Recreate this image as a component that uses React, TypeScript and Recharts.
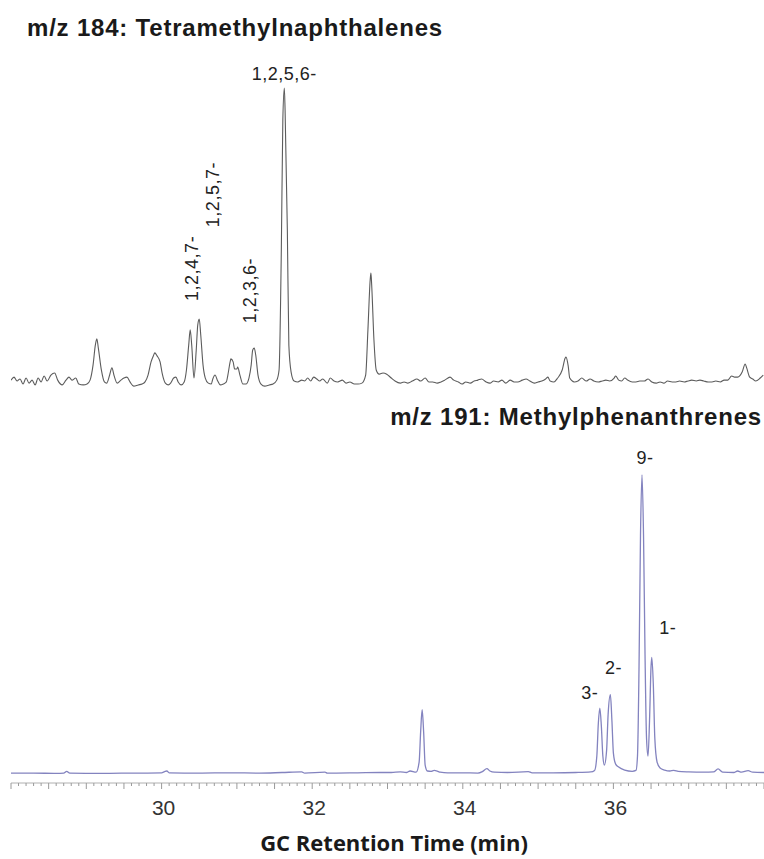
import { LineChart, Line, XAxis, YAxis, ReferenceDot } from "recharts";

// m/z 184 trace: [retention time (min), relative abundance (%)]
const tmnTrace: [number, number][] = [
  [28.0, 2.3], [28.04, 3.3], [28.08, 2.0], [28.12, 2.7], [28.16, 1.0], [28.2, 3.0], [28.24, 1.3],
  [28.28, 2.3], [28.32, 0.7], [28.36, 3.0], [28.4, 1.7], [28.44, 3.7], [28.48, 2.0], [28.53, 4.0],
  [28.58, 4.7], [28.62, 2.3], [28.68, 0.7], [28.73, 2.3], [28.77, 3.3], [28.81, 2.3], [28.86, 3.0],
  [28.9, 1.0], [28.96, 0.7], [29.01, 1.0], [29.05, 2.3], [29.09, 7.4], [29.12, 14.0], [29.14, 16.1],
  [29.16, 13.0], [29.2, 5.7], [29.24, 1.7], [29.27, 1.3], [29.31, 4.0], [29.34, 6.4], [29.37, 3.7],
  [29.41, 1.3], [29.46, 2.3], [29.5, 3.0], [29.54, 3.3], [29.58, 1.7], [29.63, 0.3], [29.69, 0.7],
  [29.74, 1.0], [29.78, 1.7], [29.82, 4.0], [29.86, 8.4], [29.89, 10.4], [29.91, 11.4], [29.94, 10.4],
  [29.98, 8.4], [30.01, 4.3], [30.05, 1.3], [30.09, 0.7], [30.12, 1.3], [30.16, 3.0], [30.19, 3.3],
  [30.22, 1.7], [30.26, 0.7], [30.3, 1.7], [30.33, 5.7], [30.36, 14.0], [30.38, 19.1], [30.4, 14.0],
  [30.43, 3.0], [30.46, 12.4], [30.48, 20.7], [30.5, 22.7], [30.52, 17.4], [30.55, 7.4], [30.58, 3.0],
  [30.62, 1.3], [30.66, 1.0], [30.68, 2.7], [30.71, 4.0], [30.74, 2.3], [30.78, 0.7], [30.82, 1.0],
  [30.86, 1.7], [30.88, 4.0], [30.91, 8.4], [30.92, 9.4], [30.95, 8.4], [30.97, 6.0], [31.0, 6.0],
  [31.01, 6.7], [31.04, 4.0], [31.08, 1.0], [31.12, 1.0], [31.16, 3.0], [31.19, 7.4], [31.21, 12.4],
  [31.23, 13.0], [31.25, 10.7], [31.28, 4.0], [31.32, 1.0], [31.37, 0.3], [31.43, 0.7], [31.48, 1.0],
  [31.53, 2.3], [31.56, 5.7], [31.59, 45.8], [31.61, 89.3], [31.63, 100], [31.64, 92.6], [31.67, 52.5],
  [31.69, 14.0], [31.72, 5.0], [31.76, 2.0], [31.81, 1.7], [31.86, 2.3], [31.9, 2.0], [31.94, 3.0],
  [31.98, 2.0], [32.02, 3.3], [32.06, 2.7], [32.1, 2.0], [32.14, 2.7], [32.2, 1.3], [32.24, 3.0],
  [32.29, 2.0], [32.34, 1.7], [32.4, 2.3], [32.45, 1.3], [32.5, 1.7], [32.56, 1.0], [32.61, 1.0],
  [32.66, 1.3], [32.71, 4.0], [32.74, 19.1], [32.77, 35.8], [32.78, 38.1], [32.79, 34.1], [32.82, 15.7],
  [32.85, 5.7], [32.89, 4.3], [32.94, 4.7], [32.99, 4.3], [33.05, 3.0], [33.1, 2.0], [33.17, 1.3],
  [33.22, 1.7], [33.27, 1.3], [33.33, 2.0], [33.39, 2.7], [33.44, 2.0], [33.5, 3.0], [33.55, 1.7],
  [33.6, 1.7], [33.66, 1.3], [33.71, 1.7], [33.76, 2.3], [33.83, 3.3], [33.88, 2.3], [33.94, 1.7],
  [33.99, 1.0], [34.04, 1.7], [34.1, 1.3], [34.15, 2.0], [34.2, 2.3], [34.25, 2.7], [34.31, 1.7],
  [34.36, 1.3], [34.41, 2.0], [34.47, 1.7], [34.52, 2.3], [34.57, 1.3], [34.63, 2.3], [34.68, 1.7],
  [34.73, 1.7], [34.79, 2.3], [34.84, 2.7], [34.89, 2.0], [34.95, 1.3], [35.0, 1.7], [35.05, 2.0],
  [35.1, 2.7], [35.13, 3.3], [35.16, 2.0], [35.21, 1.7], [35.26, 3.0], [35.32, 5.7], [35.36, 9.7],
  [35.37, 10.0], [35.4, 7.0], [35.42, 3.0], [35.48, 1.7], [35.53, 2.0], [35.58, 3.0], [35.64, 2.0],
  [35.69, 2.7], [35.74, 2.0], [35.8, 1.7], [35.85, 2.0], [35.9, 2.3], [35.95, 2.0], [36.01, 3.0],
  [36.03, 3.7], [36.07, 2.3], [36.11, 2.0], [36.15, 3.0], [36.19, 2.3], [36.25, 1.7], [36.3, 1.7],
  [36.35, 2.0], [36.41, 2.0], [36.46, 2.7], [36.51, 1.7], [36.57, 1.3], [36.62, 1.7], [36.67, 1.3],
  [36.72, 2.0], [36.78, 1.7], [36.83, 1.7], [36.88, 2.0], [36.94, 1.7], [36.99, 2.0], [37.04, 2.3],
  [37.1, 2.0], [37.15, 2.3], [37.2, 2.0], [37.26, 1.7], [37.31, 1.7], [37.36, 2.0], [37.42, 1.7],
  [37.47, 2.3], [37.52, 2.3], [37.57, 3.7], [37.61, 3.3], [37.65, 3.3], [37.71, 5.0], [37.75, 7.7],
  [37.77, 6.4], [37.81, 3.3], [37.85, 2.7], [37.89, 2.0], [37.95, 3.0], [37.99, 4.0],
];

// m/z 191 trace: [retention time (min), relative abundance (%)]
const mpTrace: [number, number][] = [
  [28.0, 0.3], [28.3, 0.3], [28.6, 0.2], [28.7, 0.3], [28.74, 0.9], [28.78, 0.3], [29.2, 0.2],
  [29.6, 0.3], [30.0, 0.4], [30.04, 0.8], [30.07, 1.0], [30.1, 0.4], [30.5, 0.3], [30.9, 0.4],
  [31.3, 0.3], [31.6, 0.5], [31.86, 0.7], [31.9, 0.3], [32.17, 0.6], [32.2, 0.3], [32.6, 0.4],
  [32.9, 0.5], [33.05, 0.5], [33.17, 0.7], [33.25, 0.5], [33.3, 1.0], [33.38, 0.6], [33.42, 4.0],
  [33.44, 14.0], [33.46, 21.5], [33.48, 14.0], [33.5, 3.0], [33.53, 1.0], [33.58, 0.9], [33.62, 1.2],
  [33.66, 1.0], [33.7, 0.6], [33.8, 0.4], [34.0, 0.4], [34.2, 0.3], [34.26, 0.8], [34.32, 1.8],
  [34.36, 1.0], [34.42, 0.6], [34.6, 0.5], [34.87, 0.8], [34.92, 0.4], [35.2, 0.4], [35.5, 0.5],
  [35.7, 0.7], [35.75, 1.2], [35.78, 6.0], [35.8, 17.0], [35.82, 22.0], [35.84, 16.0], [35.86, 6.0],
  [35.88, 3.0], [35.91, 8.0], [35.93, 20.0], [35.96, 26.5], [35.98, 18.0], [36.0, 7.0], [36.03, 3.3],
  [36.07, 2.3], [36.15, 1.3], [36.25, 0.9], [36.3, 1.2], [36.32, 6.0], [36.34, 35.0], [36.36, 80.0],
  [36.38, 100], [36.4, 80.0], [36.42, 40.0], [36.44, 12.0], [36.46, 6.0], [36.48, 18.0], [36.5, 36.0],
  [36.51, 39.0], [36.53, 30.0], [36.55, 12.0], [36.58, 4.0], [36.62, 2.0], [36.68, 1.3], [36.75, 1.0],
  [36.8, 1.2], [36.86, 0.9], [37.0, 0.7], [37.2, 0.6], [37.33, 0.7], [37.39, 1.7], [37.45, 0.6],
  [37.6, 0.5], [37.65, 1.0], [37.7, 0.6], [37.79, 1.1], [37.85, 0.6], [38.0, 0.5],
];

// peak labels: [label, retention time, abundance]
const tmnPeaks: [string, number, number][] = [
  ["1,2,5,6-", 31.63, 100],
  ["1,2,4,7-", 30.38, 19.1],
  ["1,2,5,7-", 30.5, 22.7],
  ["1,2,3,6-", 31.23, 13.0],
];
const mpPeaks: [string, number, number][] = [
  ["9-", 36.38, 100],
  ["1-", 36.51, 39.0],
  ["2-", 35.96, 26.5],
  ["3-", 35.82, 22.0],
];

const tickLabels = [30, 32, 34, 36];
const timeTicks = Array.from({ length: 101 }, (_, i) => 28 + i / 10);

// label placement relative to the peak apex (px)
const labelStyle: Record<string, { dx: number; dy: number; rotate?: boolean }> = {
  "1,2,5,6-": { dx: 0, dy: -8 },
  "1,2,4,7-": { dx: 8, dy: -29, rotate: true },
  "1,2,5,7-": { dx: 20, dy: -92, rotate: true },
  "1,2,3,6-": { dx: 2, dy: -25, rotate: true },
  "9-": { dx: 3, dy: -11 },
  "1-": { dx: 16, dy: -23 },
  "2-": { dx: 3, dy: -21 },
  "3-": { dx: -10, dy: -9 },
};

const font = "'Liberation Sans', Arial, sans-serif";

const tmnData = tmnTrace.map(([t, v]) => ({ t, v }));
const mpData = mpTrace.map(([t, v]) => ({ t, v }));

function TimeTick(props: any) {
  const { x, y, payload } = props;
  const tenth = Math.round(payload.value * 10);
  const major = tenth % 5 === 0;
  const label = tickLabels.includes(tenth / 10);
  return (
    <g>
      <line x1={x} x2={x} y1={y} y2={y + (major ? 6 : 3)} stroke="#9a9a9a" strokeWidth={1} />
      {label && (
        <text x={x + 2} y={y + 32} textAnchor="middle" fontSize={21} fill="#333" fontFamily={font}>
          {tenth / 10}
        </text>
      )}
    </g>
  );
}

function PeakLabel(name: string) {
  return (p: any) => {
    const s = labelStyle[name];
    const x = p.cx + s.dx;
    const y = p.cy + s.dy;
    return (
      <text
        x={x}
        y={y}
        textAnchor={s.rotate ? "start" : "middle"}
        transform={s.rotate ? `rotate(-90, ${x}, ${y})` : undefined}
        fontSize={18}
        letterSpacing={0.5}
        fill="#222"
        fontFamily={font}
      >
        {name}
      </text>
    );
  };
}

export default function App() {
  return (
    <div style={{ position: "absolute", left: 0, top: 0, width: 764, height: 859, background: "#fff" }}>
      <LineChart width={764} height={859} margin={{ top: 80, right: 0, bottom: 0, left: 11 }}>
        <XAxis
          type="number"
          dataKey="t"
          domain={[28, 38]}
          ticks={timeTicks}
          interval={0}
          tick={<TimeTick />}
          tickLine={false}
          tickSize={0}
          tickMargin={0}
          height={76}
          stroke="#b0b0b0"
          allowDataOverflow
        />
        <YAxis yAxisId="top" hide domain={[-132.44, 102.68]} allowDataOverflow />
        <YAxis yAxisId="bottom" hide domain={[-3.01, 232.11]} allowDataOverflow />
        <Line
          yAxisId="top"
          data={tmnData}
          dataKey="v"
          type="monotone"
          stroke="#5c5c5c"
          strokeWidth={1.1}
          dot={false}
          isAnimationActive={false}
        />
        <Line
          yAxisId="bottom"
          data={mpData}
          dataKey="v"
          type="monotone"
          stroke="#8383bf"
          strokeWidth={1.3}
          dot={false}
          isAnimationActive={false}
        />
        {tmnPeaks.map(([name, t, v]) => (
          <ReferenceDot key={name} yAxisId="top" x={t} y={v} r={1} shape={PeakLabel(name)} />
        ))}
        {mpPeaks.map(([name, t, v]) => (
          <ReferenceDot key={name} yAxisId="bottom" x={t} y={v} r={1} shape={PeakLabel(name)} />
        ))}
      </LineChart>
      <svg
        width={764}
        height={859}
        style={{ position: "absolute", left: 0, top: 0, pointerEvents: "none" }}
      >
        <text x={27} y={36} fontSize={24} fontWeight="bold" letterSpacing={0.8} fill="#1a1a1a" fontFamily={font}>
          m/z 184: Tetramethylnaphthalenes
        </text>
        <text
          x={762}
          y={425}
          textAnchor="end"
          fontSize={24}
          fontWeight="bold"
          letterSpacing={0.8}
          fill="#1a1a1a"
          fontFamily={font}
        >
          m/z 191: Methylphenanthrenes
        </text>
        <text
          x={394}
          y={851}
          textAnchor="middle"
          fontSize={22}
          fontWeight="bold"
          fill="#1a1a1a"
          fontFamily="'Open Sans', sans-serif"
        >
          GC Retention Time (min)
        </text>
      </svg>
    </div>
  );
}
